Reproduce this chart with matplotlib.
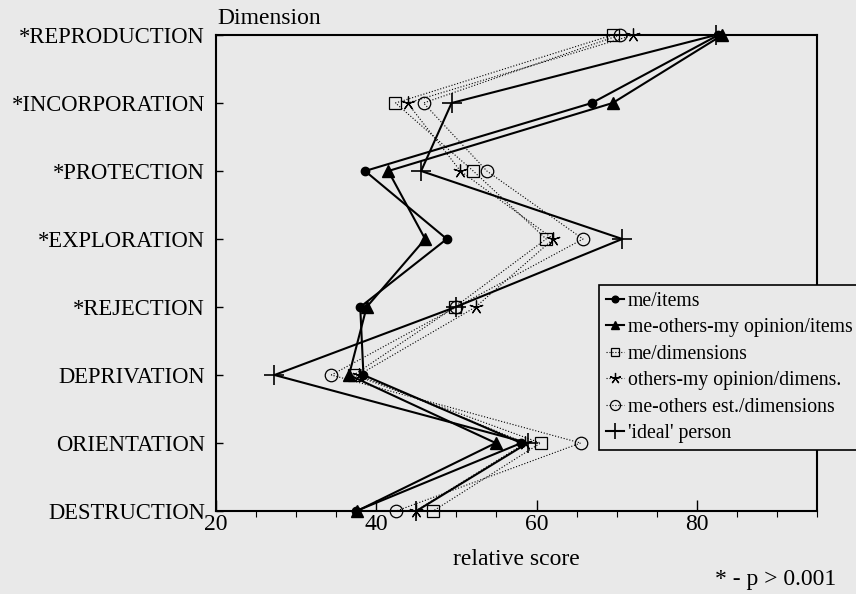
import matplotlib
matplotlib.use("Agg")
import matplotlib.pyplot as plt
from matplotlib.ticker import MultipleLocator

plt.rcParams['font.family'] = ['Liberation Serif', 'DejaVu Serif']

dimensions = ["*REPRODUCTION", "*INCORPORATION", "*PROTECTION", "*EXPLORATION",
              "*REJECTION", "DEPRIVATION", "ORIENTATION", "DESTRUCTION"]

me_items = [82.7, 66.9, 38.6, 48.8, 38.0, 38.4, 58.1, 37.5]
me_others_items = [83.2, 69.5, 41.5, 46.1, 38.8, 36.6, 54.9, 37.6]
me_dims = [69.5, 42.4, 52.1, 61.2, 49.8, 37.2, 60.5, 47.1]
others_dims = [72.1, 43.9, 50.5, 62.1, 52.4, 37.8, 58.6, 44.9]
me_others_est = [70.4, 45.9, 53.8, 65.8, 50.0, 34.4, 65.5, 42.5]
ideal = [82.4, 49.4, 45.6, 70.7, 49.9, 27.3, 58.9, 45.0]

bg = '#e9e9e9'
fig = plt.figure(figsize=(8.56, 5.94), dpi=100, facecolor=bg)
ax = fig.add_axes([216/856, 1-511/594, 601/856, 476/594])
ax.set_facecolor(bg)

ypos = list(range(len(dimensions)))[::-1]

# dotted series first so the solid ones sit on top
ax.plot(me_dims, ypos, ls=':', lw=0.8, color='black', marker='s', ms=8,
        mfc='none', mec='black', mew=0.9, label='me/dimensions', clip_on=False)
ax.plot(others_dims, ypos, ls=':', lw=0.8, color='black', marker=(5, 2, 0), ms=10,
        mew=0.9, label='others-my opinion/dimens.', clip_on=False)
ax.plot(me_others_est, ypos, ls=':', lw=0.8, color='black', marker='o', ms=9,
        mfc='none', mec='black', mew=0.9, label='me-others est./dimensions', clip_on=False)
ax.plot(me_items, ypos, ls='-', lw=1.5, color='black', marker='o', ms=6,
        label='me/items', clip_on=False)
ax.plot(me_others_items, ypos, ls='-', lw=1.5, color='black', marker='^', ms=8,
        label='me-others-my opinion/items', clip_on=False)
ax.plot(ideal, ypos, ls='-', lw=1.5, color='black', marker='+', ms=14, mew=1.2,
        label="'ideal' person", clip_on=False)

ax.set_xlim(20, 95)
ax.set_ylim(0, len(dimensions) - 1)
ax.xaxis.set_major_locator(MultipleLocator(20))
ax.xaxis.set_minor_locator(MultipleLocator(5))
ax.set_yticks(ypos)
ax.set_yticklabels(dimensions, fontsize=16.3)
ax.tick_params(axis='both', direction='in', colors='black')
ax.tick_params(axis='x', which='major', length=8, width=1, pad=2, labelsize=17)
ax.tick_params(axis='x', which='minor', length=4, width=0.8)
ax.tick_params(axis='y', length=5, width=1, pad=8)
ax.tick_params(top=False, right=False, which='both')
for s in ax.spines.values():
    s.set_linewidth(1.5)
    s.set_color('black')

ax.set_xlabel('relative score', fontsize=17, labelpad=10)
fig.text(217/856, 1-18/594, 'Dimension', fontsize=17, va='center', ha='left')
fig.text(836/856, 1-580/594, '* - p > 0.001', fontsize=17, va='center', ha='right')

handles, labels = ax.get_legend_handles_labels()
order = [3, 4, 0, 1, 2, 5]
leg = fig.legend([handles[i] for i in order], [labels[i] for i in order],
                 loc='upper left', bbox_to_anchor=(599/856, 1-285/594),
                 fontsize=14.2, frameon=True, fancybox=False, edgecolor='black',
                 facecolor=bg, framealpha=1, handlelength=0.9, handletextpad=0.2,
                 borderpad=0.35, labelspacing=0.38, borderaxespad=0,
                 markerscale=0.8)
leg.get_frame().set_linewidth(1.2)

fig.savefig('out.png', dpi=100, facecolor=bg)
